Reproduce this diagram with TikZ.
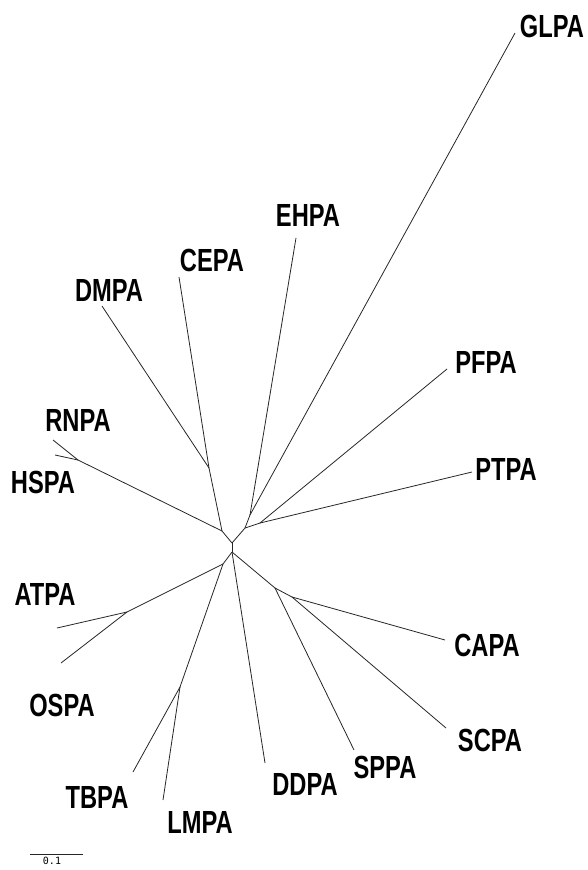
\documentclass[tikz,border=0pt]{standalone}
\usepackage{fontspec}
\usetikzlibrary{positioning}
\newfontfamily\taxfont[FakeStretch=0.74]{Liberation Sans}
\newfontfamily\barfont{DejaVu Sans Mono}
\tikzset{
    branch/.style={line width=0.8pt, black!85},
    taxon/.style={font=\taxfont\bfseries\fontsize{32}{32}\selectfont, inner sep=0pt},
    barlabel/.style={font=\barfont\fontsize{10}{10}\selectfont, inner sep=0pt}
}
\begin{document}
\begin{tikzpicture}[x=1pt, y=-1pt]
    \useasboundingbox (0,0) rectangle (588,870);
    % inner nodes of the tree
    \coordinate (a) at (232,543);
    \coordinate (b) at (232,552);
    \coordinate (c) at (222,531);
    \coordinate (cd) at (209,468);
    \coordinate (rh) at (78,460);
    \coordinate (d) at (245,528);
    \coordinate (e) at (250,515);
    \coordinate (f) at (260,523);
    \coordinate (g) at (275,588);
    \coordinate (h) at (292,597);
    \coordinate (i) at (223,564);
    \coordinate (j) at (127,612);
    \coordinate (k) at (180,687);
    % leaf ends
    \coordinate (glpaend) at (515,33);
    \coordinate (ehpaend) at (296,238);
    \coordinate (cepaend) at (179,277);
    \coordinate (dmpaend) at (102,306);
    \coordinate (rnpaend) at (53,440);
    \coordinate (hspaend) at (55,455);
    \coordinate (atpaend) at (57,628);
    \coordinate (ospaend) at (61,663);
    \coordinate (tbpaend) at (133,772);
    \coordinate (lmpaend) at (163,800);
    \coordinate (ddpaend) at (265,763);
    \coordinate (sppaend) at (354,750);
    \coordinate (scpaend) at (446,728);
    \coordinate (capaend) at (445,640);
    \coordinate (ptpaend) at (472,472);
    \coordinate (pfpaend) at (447,369);

    \node[taxon] (glpa) at (552,26) {GLPA};
    \node[taxon] (ehpa) at (308,215) {EHPA};
    \node[taxon] (cepa) at (212,260) {CEPA};
    \node[taxon] (dmpa) at (109,290) {DMPA};
    \node[taxon] (rnpa) at (78,420) {RNPA};
    \node[taxon] (hspa) at (43,482) {HSPA};
    \node[taxon] (atpa) at (45,594) {ATPA};
    \node[taxon] (ospa) at (62,705) {OSPA};
    \node[taxon] (tbpa) at (97,797) {TBPA};
    \node[taxon] (lmpa) at (200,822) {LMPA};
    \node[taxon] (ddpa) at (305,784) {DDPA};
    \node[taxon] (sppa) at (385,767) {SPPA};
    \node[taxon] (scpa) at (490,740) {SCPA};
    \node[taxon] (capa) at (487,645) {CAPA};
    \node[taxon] (ptpa) at (506,469) {PTPA};
    \node[taxon] (pfpa) at (486,362) {PFPA};

    \draw[branch] (a) -- (b);
    \draw[branch] (a) -- (c);
    \draw[branch] (a) -- (d);
    \draw[branch] (c) -- (cd);
    \draw[branch] (cd) -- (cepaend);
    \draw[branch] (cd) -- (dmpaend);
    \draw[branch] (c) -- (rh);
    \draw[branch] (rh) -- (rnpaend);
    \draw[branch] (rh) -- (hspaend);
    \draw[branch] (d) -- (e);
    \draw[branch] (e) -- (glpaend);
    \draw[branch] (e) -- (ehpaend);
    \draw[branch] (d) -- (f);
    \draw[branch] (f) -- (pfpaend);
    \draw[branch] (f) -- (ptpaend);
    \draw[branch] (b) -- (i);
    \draw[branch] (i) -- (j);
    \draw[branch] (j) -- (atpaend);
    \draw[branch] (j) -- (ospaend);
    \draw[branch] (i) -- (k);
    \draw[branch] (k) -- (tbpaend);
    \draw[branch] (k) -- (lmpaend);
    \draw[branch] (b) -- (ddpaend);
    \draw[branch] (b) -- (g);
    \draw[branch] (g) -- (sppaend);
    \draw[branch] (g) -- (h);
    \draw[branch] (h) -- (capaend);
    \draw[branch] (h) -- (scpaend);

    % scale bar
    \coordinate (bar0) at (30,854);
    \coordinate (bar1) at (83,854);
    \draw[branch] (bar0) -- (bar1);
    \node[barlabel, below=3pt of bar0, xshift=22pt] (barval) {0.1};
\end{tikzpicture}
\end{document}
